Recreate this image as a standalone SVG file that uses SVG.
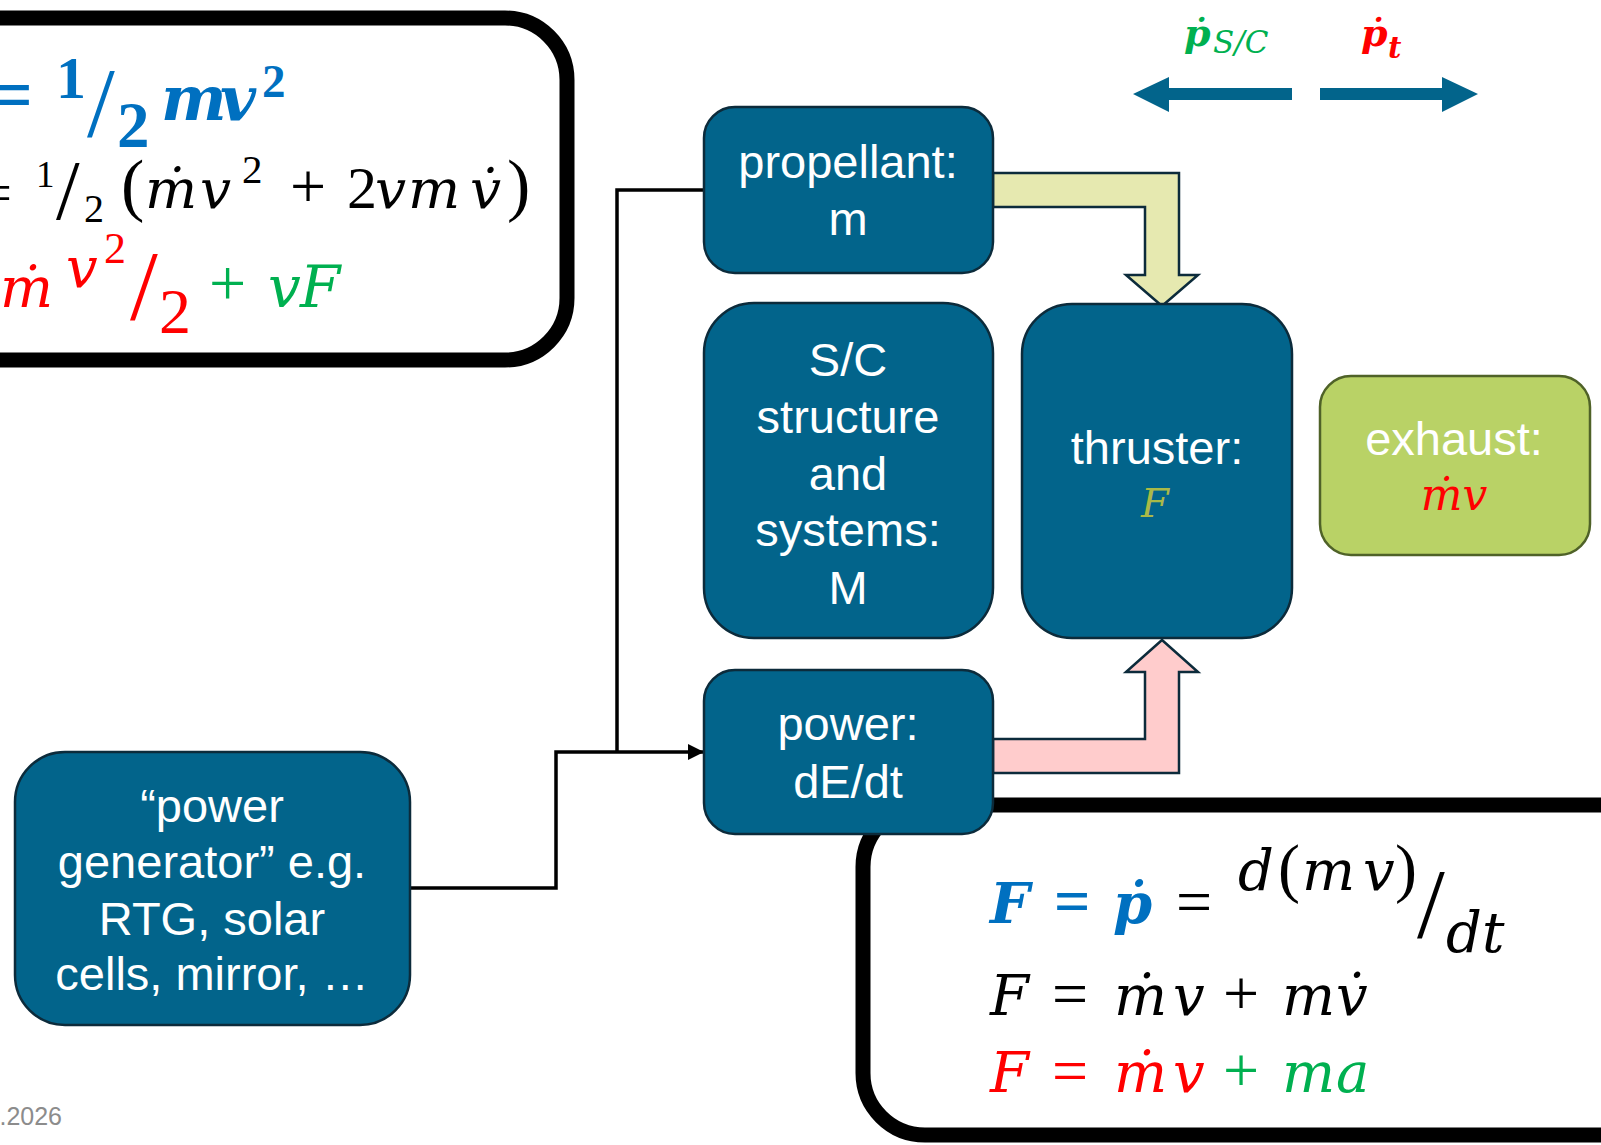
<svg xmlns="http://www.w3.org/2000/svg" width="1601" height="1145" viewBox="0 0 1601 1145">
<style>
.frame{fill:none;stroke:#000;stroke-width:15}
.node rect{fill:#02648b;stroke:#0c2b3b;stroke-width:2.5}
.node text{font-family:"Liberation Sans",Arial,sans-serif;font-size:47px;fill:#fff;text-anchor:middle}
.m{font-family:"DejaVu Serif","Liberation Serif",serif;font-style:italic}
.r{font-family:"Liberation Serif","Times New Roman",serif}
.b{font-weight:bold}
.blue{fill:#0070c0}.red{fill:#ff0000}.green{fill:#00b050}.blk{fill:#000}
.conn{fill:none;stroke:#000;stroke-width:3.5}
.barrow{fill:#02648b}
</style>
<defs>
<marker id="ah" markerUnits="userSpaceOnUse" markerWidth="16" markerHeight="16" refX="15" refY="8" orient="auto">
<path d="M0,0 L16,8 L0,16 Z" fill="#000"/>
</marker>
</defs>
<rect width="1601" height="1145" fill="#fff"/>

<!-- top-left energy equation frame -->
<g id="eq-energy">
<rect class="frame" x="-100" y="18" width="667" height="342" rx="62"/>
<text class="r b blue" x="33" y="120" font-size="75" text-anchor="end">=</text>
<text class="r b blue" x="56" y="98" font-size="60">1</text>
<text class="r blue" x="87" y="136" font-size="100">/</text>
<text class="r b blue" x="117" y="147" font-size="65">2</text>
<text class="m b blue" x="161 220" y="120" font-size="62">mv</text>
<text class="r b blue" x="262" y="97" font-size="47">2</text>

<text class="r blk" x="12" y="212" font-size="58" text-anchor="end">=</text>
<text class="r blk" x="36" y="187" font-size="37">1</text>
<text class="r blk" x="56" y="219" font-size="85">/</text>
<text class="r blk" x="84" y="222" font-size="40">2</text>
<text class="r blk" x="121" y="208" font-size="70">(</text>
<text class="m blk" x="145 200" y="208" font-size="55">ṁv</text>
<text class="r blk" x="242" y="183" font-size="41">2</text>
<text class="r blk" x="290" y="208" font-size="64">+</text>
<text class="r blk" x="347" y="208" font-size="60">2</text>
<text class="m blk" x="375 408 470" y="208" font-size="55">vmv̇</text>
<text class="r blk" x="507" y="208" font-size="70">)</text>

<text class="m red" x="0" y="307" font-size="56">ṁ</text>
<text class="m red" x="66" y="287" font-size="56">v</text>
<text class="r red" x="104" y="263" font-size="44">2</text>
<text class="r red" x="130" y="319" font-size="100">/</text>
<text class="r red" x="159" y="333" font-size="64">2</text>
<text class="r green" x="209" y="305" font-size="66">+</text>
<text class="m green" x="268 300" y="307" font-size="58">vF</text>
</g>

<!-- bottom-right force equation frame -->
<g id="eq-force">
<rect class="frame" x="863" y="805" width="900" height="330" rx="62"/>
<text class="m b blue" x="990" y="923" font-size="56">F</text>
<text class="r b blue" x="1054" y="923" font-size="64">=</text>
<text class="m b blue" x="1113" y="923" font-size="56">ṗ</text>
<text class="r blk" x="1176" y="923" font-size="64">=</text>
<text class="m blk" x="1238" y="890" font-size="56">d</text>
<text class="r blk" x="1278" y="890" font-size="66">(</text>
<text class="m blk" x="1302 1363" y="890" font-size="56">mv</text>
<text class="r blk" x="1395" y="890" font-size="66">)</text>
<text class="r blk" x="1417" y="937" font-size="100">/</text>
<text class="m blk" x="1446 1482" y="952" font-size="56">dt</text>

<text class="m blk" x="990" y="1015" font-size="56">F</text>
<text class="r blk" x="1052" y="1015" font-size="64">=</text>
<text class="m blk" x="1114 1173" y="1015" font-size="56">ṁv</text>
<text class="r blk" x="1223" y="1015" font-size="64">+</text>
<text class="m blk" x="1282 1336" y="1015" font-size="56">mv̇</text>

<text class="m red" x="990" y="1092" font-size="56">F</text>
<text class="r red" x="1052" y="1092" font-size="64">=</text>
<text class="m red" x="1114 1173" y="1092" font-size="56">ṁv</text>
<text class="r green" x="1223" y="1092" font-size="64">+</text>
<text class="m green" x="1282 1336" y="1092" font-size="56">ma</text>
</g>

<!-- momentum arrows -->
<g id="momentum">
<polygon class="barrow" points="1133,94 1169,77 1169,88 1292,88 1292,100 1169,100 1169,112"/>
<polygon class="barrow" points="1478,94 1442,77 1442,88 1320,88 1320,100 1442,100 1442,112"/>
<text class="m b green" x="1184" y="46" font-size="38">ṗ</text>
<text class="m green" x="1213" y="53" font-size="31">S/C</text>
<text class="m b red" x="1361" y="46" font-size="38">ṗ</text>
<text class="m b red" x="1388" y="58" font-size="29">t</text>
</g>

<!-- connectors -->
<g id="connectors">
<polygon points="993,173 1179,173 1179,275 1198,275 1162,306 1126,275 1145,275 1145,207 993,207" fill="#e6e9b0" stroke="#0c2b3b" stroke-width="2.5"/>
<polygon points="993,773 1179,773 1179,672 1198,672 1162,640 1126,672 1145,672 1145,739 993,739" fill="#ffcccc" stroke="#0c2b3b" stroke-width="2.5"/>
<path class="conn" d="M704,190 H617 V752"/>
<path class="conn" d="M410,888 H556 V752 H703" marker-end="url(#ah)"/>
</g>

<g id="propellant" class="node">
<rect x="704" y="107" width="289" height="166" rx="31"/>
<text x="848" y="178">propellant:</text>
<text x="848" y="235">m</text>
</g>

<g id="sc-structure" class="node">
<rect x="704" y="303" width="289" height="335" rx="50"/>
<text x="848" y="376">S/C</text>
<text x="848" y="433">structure</text>
<text x="848" y="490">and</text>
<text x="848" y="546">systems:</text>
<text x="848" y="604">M</text>
</g>

<g id="thruster" class="node">
<rect x="1022" y="304" width="270" height="334" rx="50"/>
<text x="1157" y="464">thruster:</text>
<text x="1155" y="517" style="font-family:'DejaVu Serif','Liberation Serif',serif;font-style:italic;font-size:40px;fill:#a9b948">F</text>
</g>

<g id="exhaust" class="node">
<rect x="1320" y="376" width="270" height="179" rx="31" style="fill:#b9d266;stroke:#4f6228"/>
<text x="1454" y="455">exhaust:</text>
<text x="1454" y="510" style="font-family:'DejaVu Serif','Liberation Serif',serif;font-style:italic;font-size:44px;fill:#ff0000">ṁv</text>
</g>

<g id="power" class="node">
<rect x="704" y="670" width="289" height="164" rx="31"/>
<text x="848" y="740">power:</text>
<text x="848" y="798">dE/dt</text>
</g>

<g id="power-generator" class="node">
<rect x="15" y="752" width="395" height="273" rx="50"/>
<text x="212" y="822">“power</text>
<text x="212" y="878">generator” e.g.</text>
<text x="212" y="935">RTG, solar</text>
<text x="212" y="990">cells, mirror, …</text>
</g>

<text x="62" y="1125" font-family="Liberation Sans, Arial, sans-serif" font-size="25" fill="#8c8c8c" text-anchor="end">.2026</text>
</svg>
